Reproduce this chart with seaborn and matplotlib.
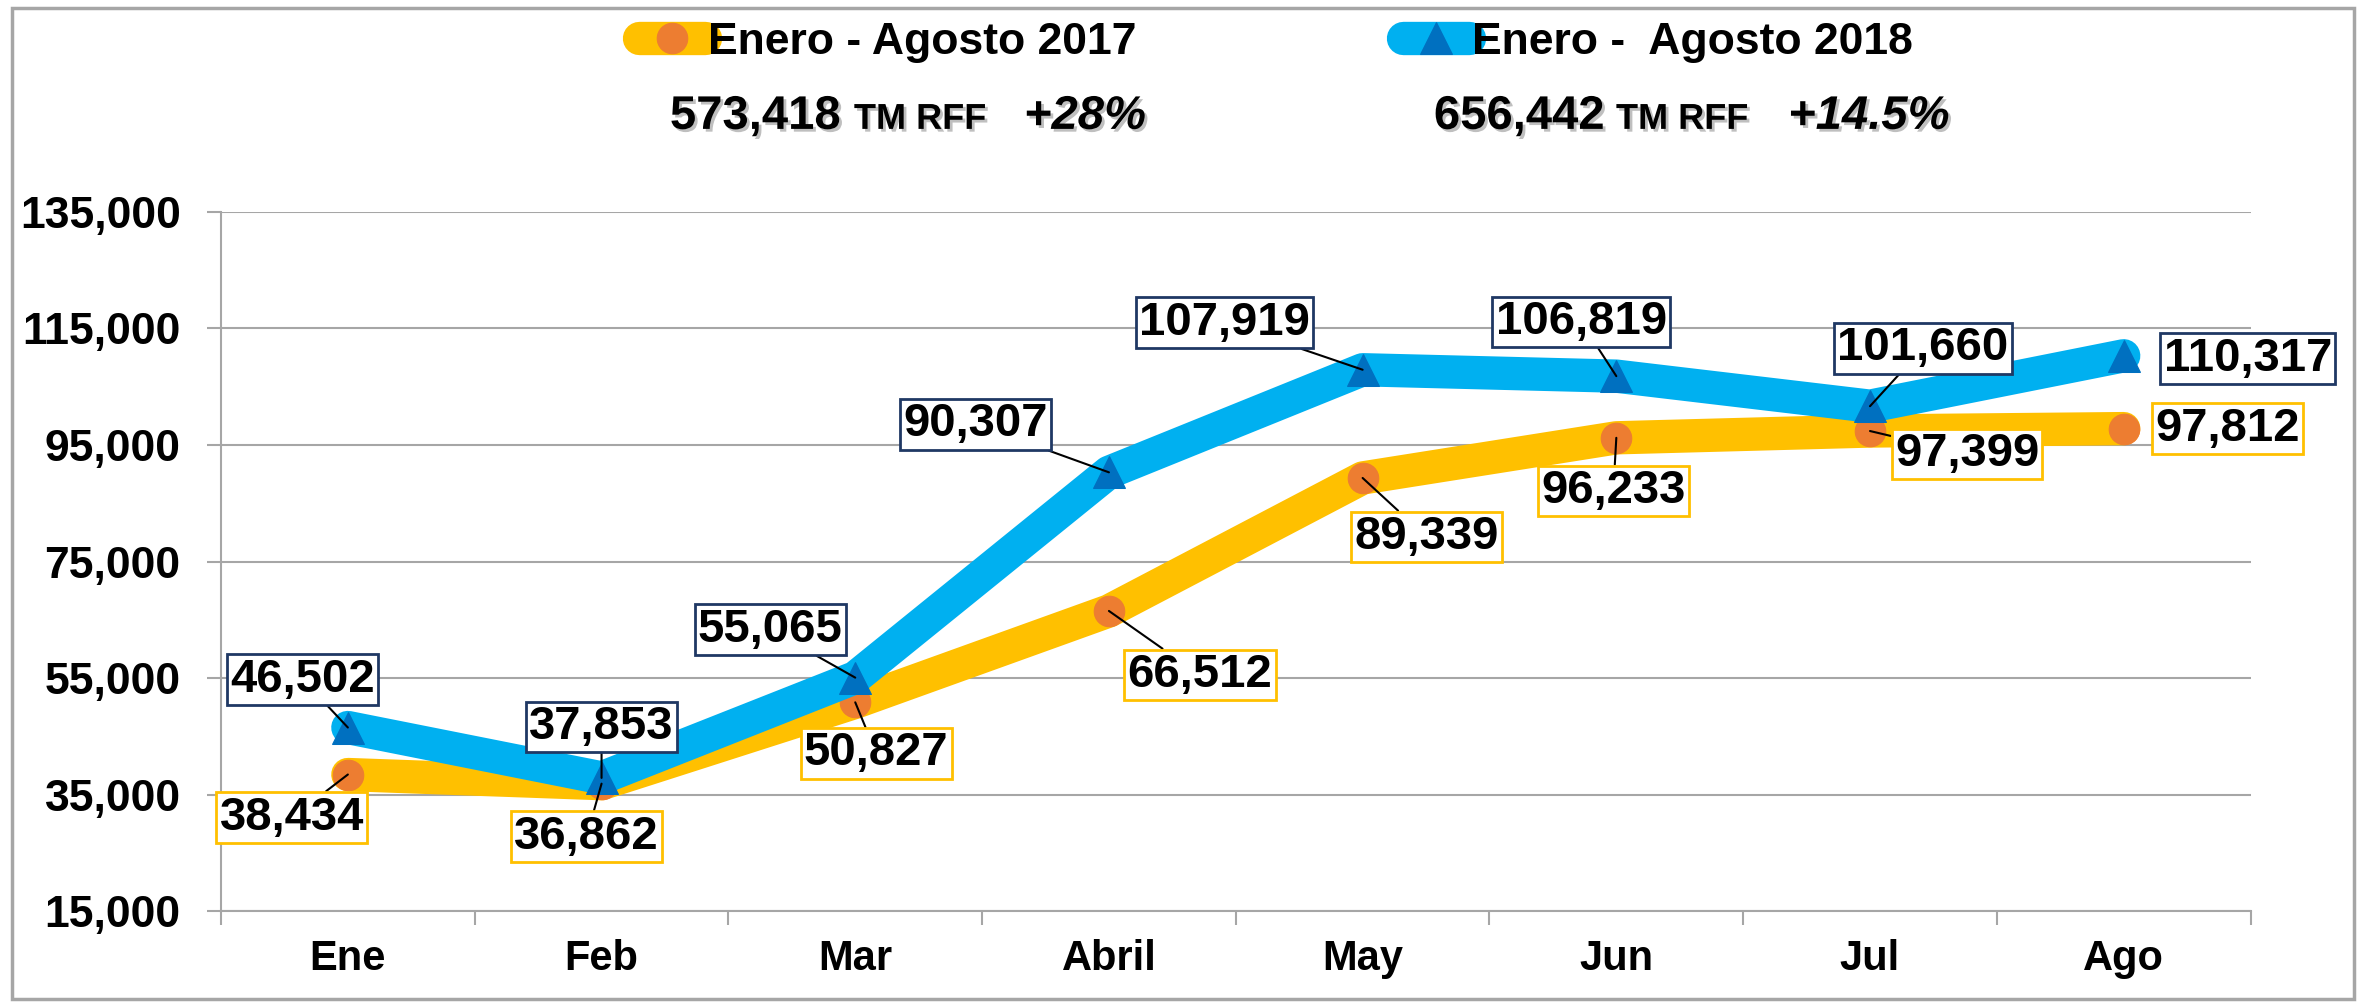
import matplotlib
matplotlib.use("Agg")
import matplotlib.pyplot as plt
import matplotlib.patheffects as pe
from matplotlib.patches import Rectangle
import numpy as np
import seaborn as sns

# Datos
meses = ["Ene", "Feb", "Mar", "Abril", "May", "Jun", "Jul", "Ago"]
valores_2017 = [38434, 36862, 50827, 66512, 89339, 96233, 97399, 97812]
valores_2018 = [46502, 37853, 55065, 90307, 107919, 106819, 101660, 110317]
serie_2017 = "Enero - Agosto 2017"
serie_2018 = "Enero -  Agosto 2018"
yticks = [15000, 35000, 55000, 75000, 95000, 115000, 135000]
total_2017 = "573,418"
total_2018 = "656,442"
var_2017 = "+28%"
var_2018 = "+14.5%"
unidad = "TM RFF"

# label offsets (pixels, y up) from each point
off_2017 = [(-56, -43), (-15, -53), (21, -51), (91, -64), (64, -59), (-3, -53), (97, -23), (104, 0)]
off_2018 = [(-45, 48), (0, 51), (-85, 48), (-133, 48), (-138, 47), (-35, 54), (53, 58), (124, -3)]

amarillo = "#FFC000"
naranja = "#ED7D31"
celeste = "#00B0F0"
azul = "#0070C0"
marino = "#1F3864"
gris = "#A6A6A6"

sns.set_theme(style="white")
plt.rcParams["font.family"] = ["Liberation Sans", "DejaVu Sans"]
plt.rcParams["font.weight"] = "bold"
plt.rcParams["text.color"] = "black"
plt.rcParams["xtick.labelcolor"] = "black"
plt.rcParams["ytick.labelcolor"] = "black"

fig = plt.figure(figsize=(23.74, 10.07), dpi=100)
ax = fig.add_axes([0.0931, 0.0953, 0.8549, 0.6942])

sns.lineplot(x=meses, y=valores_2017, sort=False, errorbar=None, ax=ax,
             color=amarillo, linewidth=24, solid_capstyle="round", solid_joinstyle="round",
             marker="o", markersize=22, markerfacecolor=naranja,
             markeredgecolor=naranja, label=serie_2017)
sns.lineplot(x=meses, y=valores_2018, sort=False, errorbar=None, ax=ax,
             color=celeste, linewidth=24, solid_capstyle="round", solid_joinstyle="round",
             marker="^", markersize=23, markerfacecolor=azul,
             markeredgecolor=azul, label=serie_2018)

# data labels
def etiquetas(valores, offsets, borde):
    for i, (v, (dx, dy)) in enumerate(zip(valores, offsets)):
        flecha = None
        if i < len(valores) - 1:
            flecha = dict(arrowstyle="-", color="black", lw=1.5, shrinkA=0, shrinkB=0)
        ax.annotate(f"{v:,}", xy=(i, v), xytext=(dx, dy), textcoords="offset pixels",
                    ha="center", va="center", fontsize=34, fontweight="bold",
                    bbox=dict(boxstyle="square,pad=0.07", fc="white", ec=borde, lw=2),
                    arrowprops=flecha, zorder=5)

etiquetas(valores_2017, off_2017, amarillo)
etiquetas(valores_2018, off_2018, marino)

# axes styling
ax.set_xlim(-0.5, 7.5)
ax.set_ylim(15000, 135000)
ax.set_yticks(yticks)
ax.yaxis.set_major_formatter(lambda v, p: f"{int(v):,}")
ax.set_xticks(range(len(meses)))
ax.set_xticklabels(meses)
ax.set_xticks(np.arange(-0.5, len(meses), 1), minor=True)
ax.tick_params(axis="y", length=10, width=1.5, color=gris, pad=19, labelsize=32, left=True)
ax.tick_params(axis="x", which="major", length=0, pad=20, labelsize=30)
ax.tick_params(axis="x", which="minor", length=10, width=1.5, color=gris, bottom=True)
ax.yaxis.grid(True, color=gris, lw=1.5)
ax.xaxis.grid(False)
for s in ["top", "right"]:
    ax.spines[s].set_visible(False)
for s in ["left", "bottom"]:
    ax.spines[s].set_color(gris)
    ax.spines[s].set_linewidth(1.5)
ax.set_xlabel("")
ax.set_ylabel("")

ax.legend(loc="center", bbox_to_anchor=(0.5373, 0.958), bbox_transform=fig.transFigure,
          ncol=2, frameon=False, prop={"weight": "bold", "size": 32},
          handlelength=1.5, handletextpad=0.05, columnspacing=6)

# header totals
sombra = [pe.withSimplePatchShadow(offset=(2, -2), shadow_rgbFace="gray", alpha=0.5)]
yb = 0.872
for x, t, size, style in [(0.2822, total_2017, 34, "normal"), (0.3597, unidad, 26, "normal"),
                          (0.4313, var_2017, 34, "italic"), (0.6040, total_2018, 34, "normal"),
                          (0.6807, unidad, 26, "normal"), (0.7532, var_2018, 34, "italic")]:
    fig.text(x, yb, t, fontsize=size, fontweight="bold", fontstyle=style,
             ha="left", va="baseline", path_effects=sombra)

fig.patches.append(Rectangle((12 / 2374, 8 / 1007), 2342 / 2374, 991 / 1007,
                             transform=fig.transFigure, fill=False, ec=gris, lw=2.5))

fig.savefig("out.png", dpi=100)
